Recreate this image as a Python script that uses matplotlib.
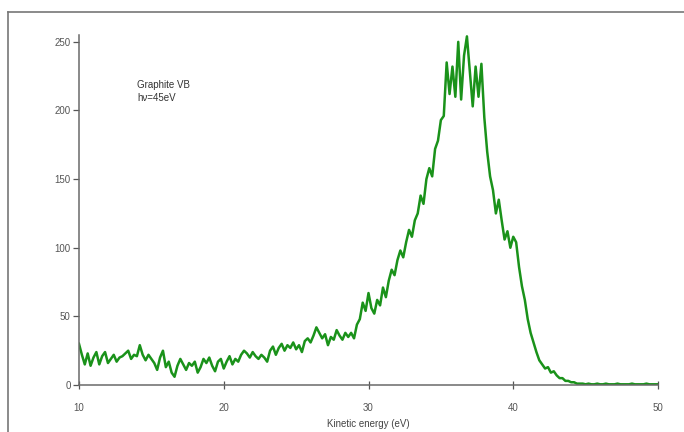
import numpy as np
import matplotlib
matplotlib.use("Agg")
import matplotlib.pyplot as plt
from matplotlib.lines import Line2D

plt.rcParams['font.family'] = ['Liberation Sans', 'DejaVu Sans']

# kinetic energy grid (eV), 0.2 eV steps from 10 to 50
energy = np.round(np.arange(10.0, 50.0001, 0.2), 1)

# intensity, one value per 0.2 eV
intensity = [
    30, 22, 15, 23, 14, 20, 24, 15, 21, 24,      # 10.0 - 11.8
    16, 19, 22, 17, 20, 21, 23, 25, 19, 22,      # 12.0 - 13.8
    21, 29, 22, 18, 22, 19, 16, 11, 20, 25,      # 14.0 - 15.8
    13, 17, 9, 6, 14, 19, 15, 11, 16, 14,        # 16.0 - 17.8
    17, 9, 13, 19, 16, 20, 14, 10, 17, 19,       # 18.0 - 19.8
    12, 17, 21, 15, 19, 17, 22, 25, 23, 20,      # 20.0 - 21.8
    24, 21, 19, 22, 20, 17, 25, 28, 22, 27,      # 22.0 - 23.8
    30, 25, 29, 27, 31, 26, 29, 24, 32, 34,      # 24.0 - 25.8
    31, 36, 42, 38, 34, 37, 29, 35, 33, 40,      # 26.0 - 27.8
    36, 33, 38, 35, 38, 34, 44, 48, 60, 54,      # 28.0 - 29.8
    67, 56, 52, 62, 58, 71, 64, 76, 84, 80,      # 30.0 - 31.8
    91, 98, 93, 104, 113, 108, 120, 125, 138, 132,   # 32.0 - 33.8
    150, 158, 152, 172, 178, 193, 196, 235, 212, 232,  # 34.0 - 35.8
    210, 250, 208, 240, 254, 228, 203, 232, 210, 234,  # 36.0 - 37.8
    195, 170, 152, 142, 125, 135, 120, 106, 112, 100,  # 38.0 - 39.8
    108, 104, 86, 72, 62, 48, 38, 31, 24, 18,    # 40.0 - 41.8
    15, 12, 13, 9, 10, 7, 5, 5, 3, 3,            # 42.0 - 43.8
    2, 2, 1, 1, 1, 0.5, 1, 0.5, 0.5, 1,          # 44.0 - 45.8
    0.5, 0.5, 1, 0.5, 0.5, 0.5, 1, 0.5, 0.5, 0.5,  # 46.0 - 47.8
    0.5, 1, 0.5, 0.5, 0.5, 0.5, 1, 0.5, 0.5, 0.5,  # 48.0 - 49.8
    0.5,                                         # 50.0
]

x_ticks = [10, 20, 30, 40, 50]
y_ticks = [0, 50, 100, 150, 200, 250]

fig = plt.figure(figsize=(6.84, 4.32), dpi=100)
ax = fig.add_axes([79 / 684, 47 / 432, 579 / 684, 350 / 432])

ax.plot(energy, intensity, color='#1a921a', lw=1.8)

ax.set_xlim(10, 50)
ax.set_ylim(0, 255)
ax.set_xticks(x_ticks)
ax.set_yticks(y_ticks)

for side in ['top', 'right']:
    ax.spines[side].set_visible(False)
for side in ['left', 'bottom']:
    ax.spines[side].set_color('#6a6a6a')
    ax.spines[side].set_linewidth(1.1)

ax.tick_params(axis='y', direction='out', length=4, width=0.9,
               colors='#555555', labelsize=7, pad=2)
ax.tick_params(axis='x', direction='inout', length=6, width=0.9,
               colors='#555555', labelsize=7, pad=10)
ax.set_xlabel('Kinetic energy (eV)', fontsize=7, color='#444444', labelpad=4)

ax.text(0.10, 0.87, 'Graphite VB\nh\u03bd=45eV', transform=ax.transAxes,
        fontsize=7, color='#333333', va='top', ha='left', linespacing=1.3)

# outer frame (only left and top edges fall inside the picture)
fig.add_artist(Line2D([8 / 684, 8 / 684], [0, 1 - 12 / 432],
                      transform=fig.transFigure, color='#777777', lw=1.2))
fig.add_artist(Line2D([8 / 684, 1], [1 - 12 / 432, 1 - 12 / 432],
                      transform=fig.transFigure, color='#777777', lw=1.2))

fig.savefig('out.png', dpi=100)
